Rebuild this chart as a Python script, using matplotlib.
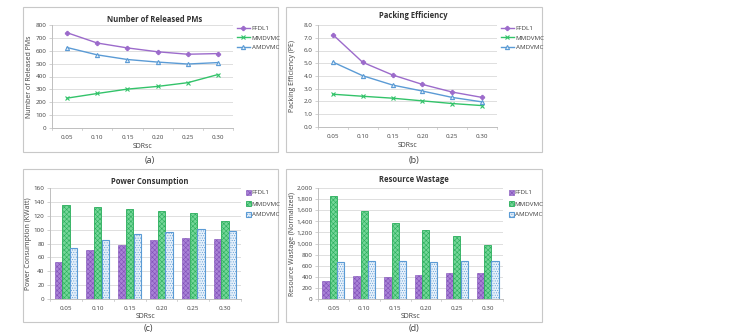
import numpy as np
import matplotlib
matplotlib.use('Agg')
import matplotlib.pyplot as plt
import matplotlib.patches as patches

plt.rcParams['font.family'] = ['Open Sans', 'DejaVu Sans']
plt.rcParams['hatch.linewidth'] = 0.4

W, H = 736, 333

sdr = ['0.05', '0.10', '0.15', '0.20', '0.25', '0.30']
series = ['FFDL1', 'MMDVMC', 'AMDVMC']

released_ffdl1 = [740, 660, 622, 592, 573, 578]
released_mmdvmc = [232, 268, 302, 323, 352, 415]
released_amdvmc = [625, 568, 532, 512, 497, 508]

pe_ffdl1 = [7.24, 5.07, 4.08, 3.34, 2.74, 2.32]
pe_mmdvmc = [2.57, 2.41, 2.26, 2.05, 1.84, 1.68]
pe_amdvmc = [5.09, 4.02, 3.29, 2.82, 2.32, 1.97]

power_ffdl1 = [54, 70, 78, 85, 88, 87]
power_mmdvmc = [136, 133, 130, 127, 124, 113]
power_amdvmc = [73, 85, 94, 97, 101, 98]

waste_ffdl1 = [330, 420, 404, 434, 464, 470]
waste_mmdvmc = [1860, 1590, 1367, 1235, 1127, 964]
waste_amdvmc = [675, 680, 681, 669, 690, 690]

purple = '#9C6BCB'
green = '#33C36A'
blue = '#5B9BD5'
grid_c = '#D9D9D9'
text_c = '#404040'

fig = plt.figure(figsize=(W / 100, H / 100), dpi=100)


def px_axes(x0, y0, x1, y1):
    return fig.add_axes([x0 / W, 1 - y1 / H, (x1 - x0) / W, (y1 - y0) / H])


def box(x0, y0, x1, y1):
    fig.add_artist(patches.Rectangle(
        (x0 / W, 1 - y1 / H), (x1 - x0) / W, (y1 - y0) / H,
        transform=fig.transFigure, facecolor='none', edgecolor='#C8C8C8', linewidth=0.8,
    ))


def ftext(x, y, s, **kw):
    kw.setdefault('ha', 'center')
    kw.setdefault('va', 'center')
    kw.setdefault('color', text_c)
    fig.text(x / W, 1 - y / H, s, **kw)


def style_axes(ax, ymax, step, fmt):
    ax.set_ylim(0, ymax)
    ticks = np.arange(0, ymax + step / 2, step)
    ax.set_yticks(ticks)
    ax.set_yticklabels([fmt(t) for t in ticks])
    ax.grid(axis='y', color=grid_c, linewidth=0.6)
    ax.set_axisbelow(True)
    for s in ['top', 'right']:
        ax.spines[s].set_visible(False)
    for s in ['left', 'bottom']:
        ax.spines[s].set_color('#BFBFBF')
        ax.spines[s].set_linewidth(0.7)
    ax.tick_params(axis='both', labelsize=4.5, colors=text_c, length=2, width=0.5,
                   pad=2, color='#BFBFBF')
    ax.set_xlim(-0.5, len(sdr) - 0.5)
    ax.set_xticks(np.arange(len(sdr)))
    ax.set_xticklabels(sdr)
    ax.tick_params(axis='x', length=0, pad=5)
    # category boundary tick marks
    for b in np.arange(-0.5, len(sdr), 1.0):
        ax.plot([b, b], [0, -ymax * 0.02], color='#BFBFBF', linewidth=0.5, clip_on=False)


def line_panel(rect, boxr, title, title_xy, ylabel, ylab_x, xlab_y, sub, sub_xy, data, ymax, step, fmt, leg_xy):
    box(*boxr)
    ax = px_axes(*rect)
    x = np.arange(len(sdr))
    markers = ['P', 'x', '^']
    colors = [purple, green, blue]
    handles = []
    for vals, m, c, name in zip(data, markers, colors, series):
        mfc = c if m != '^' else '#DDEBF7'
        h, = ax.plot(x, vals, color=c, linewidth=1.0, marker=m, markersize=3,
                     markerfacecolor=mfc, markeredgecolor=c, markeredgewidth=0.8, label=name)
        handles.append(h)
    style_axes(ax, ymax, step, fmt)
    ftext(*title_xy, title, fontsize=5.5, fontweight='bold', color='#333333')
    ftext(ylab_x, (rect[1] + rect[3]) / 2, ylabel, fontsize=5, rotation=90)
    ftext((rect[0] + rect[2]) / 2, xlab_y, 'SDRsc', fontsize=5)
    ftext(*sub_xy, sub, fontsize=6.5)
    fig.legend(handles=handles, loc='upper left',
               bbox_to_anchor=(leg_xy[0] / W, 1 - leg_xy[1] / H), frameon=False,
               fontsize=4.5, handlelength=2.0, labelspacing=0.6, borderpad=0,
               handletextpad=0.3, labelcolor=text_c)
    return ax


def bar_panel(rect, boxr, title, title_xy, ylabel, ylab_x, xlab_y, sub, sub_xy, data, ymax, step, fmt, leg_xy):
    box(*boxr)
    ax = px_axes(*rect)
    x = np.arange(len(sdr))
    w = 0.23
    styles = [
        dict(color='#A982D6', edgecolor='#8050B8', hatch='xxxxxxx', linewidth=0.4),
        dict(color='#74D698', edgecolor='#2AAE5C', hatch='xxxxxxx', linewidth=0.6),
        dict(color='#E6F0FA', edgecolor=blue, hatch='.......', linewidth=0.8),
    ]
    handles = []
    for i, (vals, st, name) in enumerate(zip(data, styles, series)):
        b = ax.bar(x + (i - 1) * w * 1.04, vals, width=w, label=name, **st)
        handles.append(b)
    style_axes(ax, ymax, step, fmt)
    ftext(*title_xy, title, fontsize=5.5, fontweight='bold', color='#333333')
    ftext(ylab_x, (rect[1] + rect[3]) / 2, ylabel, fontsize=5, rotation=90)
    ftext((rect[0] + rect[2]) / 2, xlab_y, 'SDRsc', fontsize=5)
    ftext(*sub_xy, sub, fontsize=6.5)
    fig.legend(handles=handles, loc='upper left',
               bbox_to_anchor=(leg_xy[0] / W, 1 - leg_xy[1] / H), frameon=False,
               fontsize=4.5, handlelength=0.7, handleheight=0.7, labelspacing=0.9,
               borderpad=0, handletextpad=0.2, labelcolor=text_c)
    return ax


line_panel((52, 25, 233, 128), (23, 7, 278, 152), 'Number of Released PMs', (155, 19),
           'Number of Released PMs', 30, 146, '(a)', (150, 160),
           [released_ffdl1, released_mmdvmc, released_amdvmc], 800, 100,
           lambda t: f'{t:.0f}', (234, 23))

line_panel((318, 25, 497, 127), (286, 7, 542, 152), 'Packing Efficiency', (413, 16),
           'Packing Efficiency (PE)', 293, 145, '(b)', (414, 160),
           [pe_ffdl1, pe_mmdvmc, pe_amdvmc], 8, 1,
           lambda t: f'{t:.1f}', (498, 23))

bar_panel((50, 188, 241, 299), (23, 169, 278, 322), 'Power Consumption', (150, 181),
          'Power Consumption (KWatt)', 29, 317, '(c)', (148, 329),
          [power_ffdl1, power_mmdvmc, power_amdvmc], 160, 20,
          lambda t: f'{t:.0f}', (243, 187))

bar_panel((318, 188, 503, 299), (286, 169, 542, 322), 'Resource Wastage', (414, 180),
          'Resource Wastage (Normalized)', 292, 316, '(d)', (414, 329),
          [waste_ffdl1, waste_mmdvmc, waste_amdvmc], 2000, 200,
          lambda t: f'{t:,.0f}', (506, 187))

fig.savefig('out.png', dpi=100, facecolor='white')
